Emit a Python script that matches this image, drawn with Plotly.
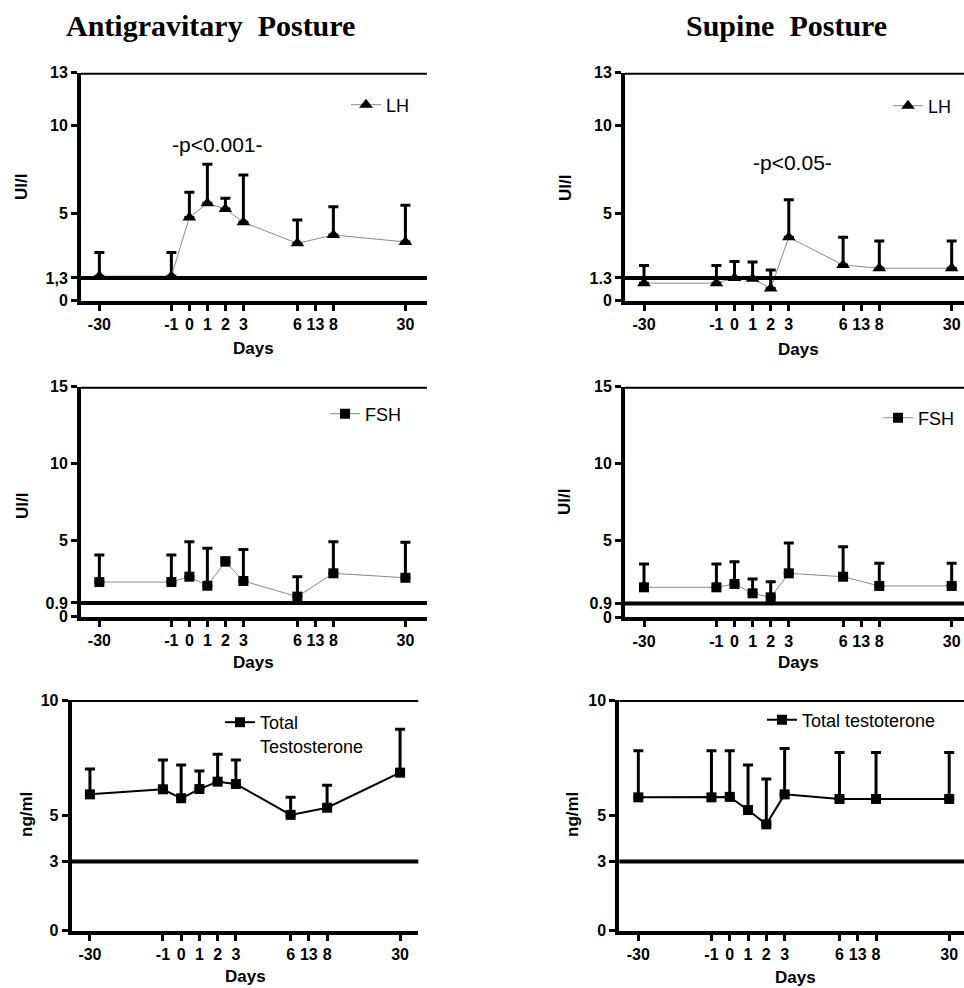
import plotly.graph_objects as go

# ---------------- data ----------------
day_labels = ["-30", "-1", "0", "1", "2", "3", "6", "13", "8", "30"]
day_slots = [0, 4, 5, 6, 7, 8, 11, 12, 13, 17]          # slot of each day label on the axis
sample_days = ["-30", "-1", "0", "1", "2", "3", "6", "8", "30"]

lh_antigrav_mean = [1.4, 1.4, 4.75, 5.55, 5.23, 4.47, 3.27, 3.75, 3.35]
lh_antigrav_upper = [2.75, 2.75, 6.18, 7.78, 5.84, 7.17, 4.6, 5.36, 5.44]
lh_supine_mean = [1.0, 1.0, 1.3, 1.25, 0.7, 3.62, 2.04, 1.85, 1.85]
lh_supine_upper = [2.0, 2.0, 2.23, 2.2, 1.75, 5.75, 3.62, 3.41, 3.41]

fsh_antigrav_mean = [2.26, 2.26, 2.61, 2.02, 3.59, 2.33, 1.31, 2.83, 2.54]
fsh_antigrav_upper = [4.02, 4.02, 4.89, 4.46, 3.85, 4.39, 2.61, 4.89, 4.85]
fsh_supine_mean = [1.95, 1.95, 2.17, 1.56, 1.3, 2.86, 2.64, 2.04, 2.04]
fsh_supine_upper = [3.47, 3.47, 3.62, 2.49, 2.32, 4.83, 4.59, 3.51, 3.51]

tt_antigrav_mean = [5.91, 6.13, 5.74, 6.14, 6.46, 6.36, 5.02, 5.33, 6.85]
tt_antigrav_upper = [7.01, 7.4, 7.18, 6.92, 7.65, 7.4, 5.78, 6.3, 8.73]
tt_supine_mean = [5.78, 5.78, 5.8, 5.23, 4.61, 5.91, 5.71, 5.71, 5.71]
tt_supine_upper = [7.8, 7.8, 7.8, 7.18, 6.58, 7.9, 7.72, 7.72, 7.72]

lh_ticks = [0, 1.3, 5, 10, 13]
lh_ticktext_left = ["0", "1,3", "5", "10", "13"]
lh_ticktext_right = ["0", "1.3", "5", "10", "13"]
fsh_ticks = [0, 0.9, 5, 10, 15]
fsh_ticktext = ["0", "0.9", "5", "10", "15"]
tt_ticks = [0, 3, 5, 10]
tt_ticktext = ["0", "3", "5", "10"]

lh_limits = [1.3, 13]
fsh_limits = [0.9, 15]
tt_limits = [3, 10]

# ---------------- layout helpers ----------------
W, H = 964, 988
slot_of = dict(zip(day_labels, day_slots))
xs = [slot_of[d] for d in sample_days]

FONT = "Liberation Sans, Arial, sans-serif"
SERIF = "Liberation Serif, Times New Roman, serif"


def px_x(p):
    return p / W


def px_y(p):
    return 1 - p / H


panels = [
    dict(name="LH", mean=lh_antigrav_mean, up=lh_antigrav_upper, sym="triangle-up", msize=12,
         lcolor="#8a8a8a", lwidth=1, xd=(81, 427), xr=(-1.02, 18.2), yd=(300.7, 72.7), yr=(0, 13),
         tv=lh_ticks, tt=lh_ticktext_left, lim=lh_limits, leg=(346, 105)),
    dict(name="LH", mean=lh_supine_mean, up=lh_supine_upper, sym="triangle-up", msize=12,
         lcolor="#8a8a8a", lwidth=1, xd=(625, 964), xr=(-1.05, 17.68), yd=(300.7, 72.7), yr=(0, 13),
         tv=lh_ticks, tt=lh_ticktext_right, lim=lh_limits, leg=(888, 106)),
    dict(name="FSH", mean=fsh_antigrav_mean, up=fsh_antigrav_upper, sym="square", msize=10,
         lcolor="#8a8a8a", lwidth=1, xd=(81, 427), xr=(-1.02, 18.2), yd=(616.7, 386.7), yr=(0, 15),
         tv=fsh_ticks, tt=fsh_ticktext, lim=fsh_limits, leg=(325, 414)),
    dict(name="FSH", mean=fsh_supine_mean, up=fsh_supine_upper, sym="square", msize=10,
         lcolor="#8a8a8a", lwidth=1, xd=(625, 964), xr=(-1.05, 17.68), yd=(617.3, 386.7), yr=(0, 15),
         tv=fsh_ticks, tt=fsh_ticktext, lim=fsh_limits, leg=(878, 418)),
    dict(name="Total<br>Testosterone", mean=tt_antigrav_mean, up=tt_antigrav_upper, sym="square", msize=10,
         lcolor="black", lwidth=2, xd=(71.7, 418.3), xr=(-1.0, 18.0), yd=(930.7, 700), yr=(0, 10),
         tv=tt_ticks, tt=tt_ticktext, lim=tt_limits, leg=(220, 734)),
    dict(name="Total testoterone", mean=tt_supine_mean, up=tt_supine_upper, sym="square", msize=10,
         lcolor="black", lwidth=2, xd=(619.3, 964), xr=(-1.04, 17.81), yd=(930.7, 700), yr=(0, 10),
         tv=tt_ticks, tt=tt_ticktext, lim=tt_limits, leg=(762, 720)),
]

fig = go.Figure()
layout = dict(width=W, height=H, autosize=False,
              margin=dict(l=0, r=0, t=0, b=0, autoexpand=False),
              paper_bgcolor="white", plot_bgcolor="white",
              showlegend=True)
shapes = []

for i, p in enumerate(panels, start=1):
    sfx = "" if i == 1 else str(i)
    legname = "legend" if i == 1 else f"legend{i}"
    err = [u - m for u, m in zip(p["up"], p["mean"])]
    fig.add_trace(go.Scatter(
        x=xs, y=p["mean"], mode="lines+markers", name=p["name"],
        xaxis=f"x{sfx}", yaxis=f"y{sfx}", legend=legname,
        line=dict(color=p["lcolor"], width=p["lwidth"]),
        marker=dict(symbol=p["sym"], size=p["msize"], color="black"),
        error_y=dict(type="data", symmetric=False, array=err, arrayminus=[0] * len(err),
                     color="black", thickness=3, width=5),
        cliponaxis=False,
    ))
    layout[f"xaxis{sfx}"] = dict(
        domain=[px_x(p["xd"][0]), px_x(p["xd"][1])], range=list(p["xr"]),
        anchor=f"y{sfx}", tickmode="array", tickvals=day_slots, ticktext=day_labels,
        showgrid=False, zeroline=False, showline=True, linecolor="black", linewidth=4,
        ticks="outside", ticklen=6, tickwidth=3, tickcolor="black",
        tickfont=dict(family=FONT, size=16, color="black", weight="bold"),
        fixedrange=True,
    )
    layout[f"yaxis{sfx}"] = dict(
        domain=[px_y(p["yd"][0]), px_y(p["yd"][1])], range=list(p["yr"]),
        anchor=f"x{sfx}", tickmode="array", tickvals=p["tv"], ticktext=p["tt"],
        showgrid=False, zeroline=False, showline=True, linecolor="black", linewidth=4,
        ticks="outside", ticklen=6, tickwidth=3, tickcolor="black",
        tickfont=dict(family=FONT, size=16, color="black", weight="bold"),
        fixedrange=True,
    )
    for lv in p["lim"]:
        shapes.append(dict(type="line", xref=f"x{sfx} domain", yref=f"y{sfx}",
                           x0=0, x1=1, y0=lv, y1=lv,
                           line=dict(color="black", width=4)))
    layout[legname] = dict(
        x=px_x(p["leg"][0]), y=px_y(p["leg"][1]), xanchor="left", yanchor="middle",
        bgcolor="rgba(0,0,0,0)", borderwidth=0, valign="top",
        font=dict(family=FONT, size=18, color="black"),
        itemclick=False, itemdoubleclick=False,
    )

layout["shapes"] = shapes


def note(text, xx, yy, size, family=FONT, angle=0):
    return dict(text=text, x=px_x(xx), y=px_y(yy), xref="paper", yref="paper",
                xanchor="center", yanchor="middle", showarrow=False, textangle=angle,
                font=dict(family=family, size=size, color="black"))


ann = []
ann.append(note("<b>Antigravitary  Posture</b>", 210, 25, 30, SERIF))
ann.append(note("<b>Supine  Posture</b>", 786, 25, 30, SERIF))
ytitles = [("UI/l", 22, 187), ("UI/l", 565, 188), ("UI/l", 22, 506), ("UI/l", 565, 502),
           ("ng/ml", 26, 815), ("ng/ml", 572, 815)]
for t, xx, yy in ytitles:
    ann.append(note(f"<b>{t}</b>", xx, yy, 17, angle=-90))
xtitles = [(253, 348), (798, 350), (253, 662), (798, 662), (245, 976), (795, 977)]
for xx, yy in xtitles:
    ann.append(note("<b>Days</b>", xx, yy, 17))
ann.append(note("-p<0.001-", 217, 145, 21))
ann.append(note("-p<0.05-", 792, 162, 21))
layout["annotations"] = ann

fig.update_layout(**layout)
fig.write_html("out.html")
